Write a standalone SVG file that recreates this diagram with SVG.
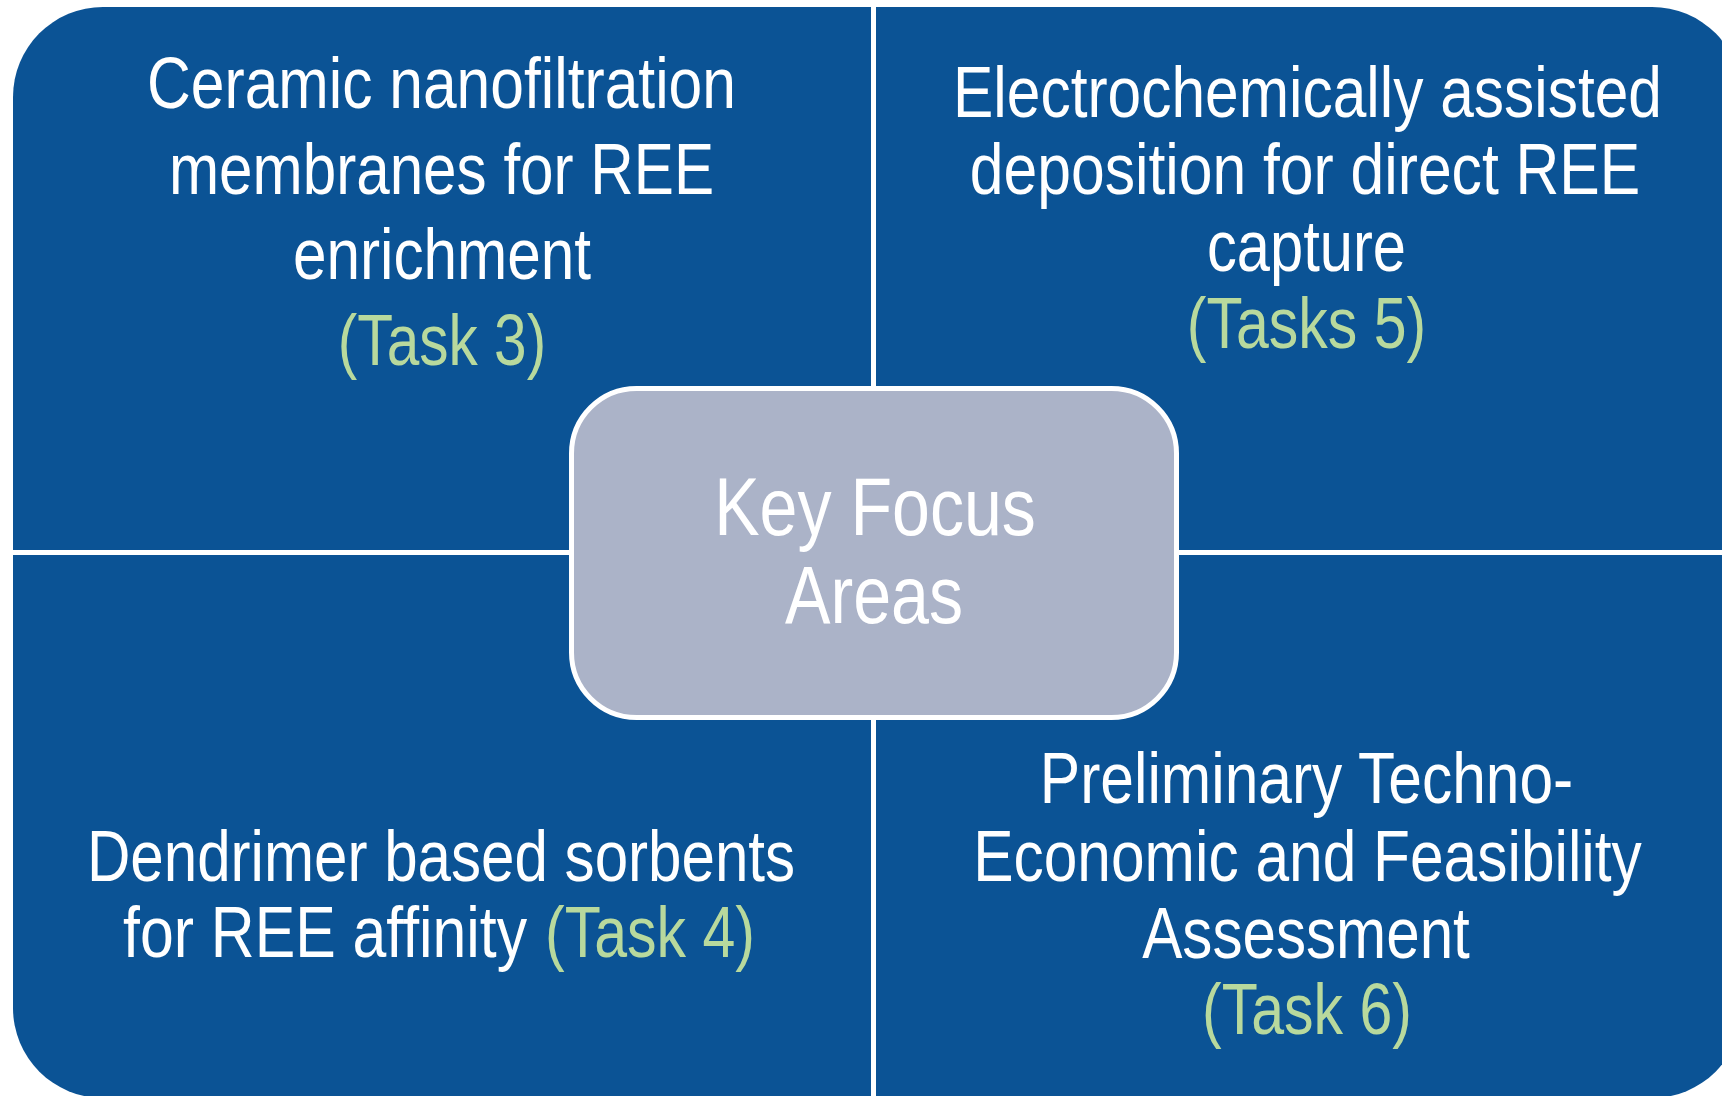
<svg xmlns="http://www.w3.org/2000/svg" width="1722" height="1096" viewBox="0 0 1722 1096">
  <style>
    .quad { fill: #0B5395; }
    .hub { fill: #ABB3C8; stroke: #FFFFFF; stroke-width: 5; }
    text { font-family: "Liberation Sans", Arial, sans-serif; font-size: 72px; fill: #FFFFFF; }
    .task { fill: #B8D99D; }
    .mid { text-anchor: middle; }
    .hubtext { font-size: 82px; text-anchor: middle; }
  </style>

  <rect x="0" y="0" width="1722" height="1096" fill="#FFFFFF"/>

  <!-- labels are set in a condensed cut: each line is narrowed to 84% horizontally -->

  <!-- top-left quadrant -->
  <g id="quad-membranes">
    <path class="quad" d="M13,97 A90,90 0 0 1 103,7 L871,7 L871,550 L13,550 Z"/>
    <text class="mid" transform="translate(441.5,0) scale(0.84,1)" x="0" y="108" textLength="701" lengthAdjust="spacingAndGlyphs">Ceramic nanofiltration</text>
    <text class="mid" transform="translate(441.5,0) scale(0.84,1)" x="0" y="194" textLength="649" lengthAdjust="spacingAndGlyphs">membranes for REE</text>
    <text class="mid" transform="translate(442,0) scale(0.84,1)" x="0" y="279" textLength="355" lengthAdjust="spacingAndGlyphs">enrichment</text>
    <text class="mid task" transform="translate(442,0) scale(0.84,1)" x="0" y="365" textLength="248" lengthAdjust="spacingAndGlyphs">(Task 3)</text>
  </g>

  <!-- top-right quadrant -->
  <g id="quad-deposition">
    <path class="quad" d="M876,7 L1652,7 A90,90 0 0 1 1742,97 L1742,550 L876,550 Z"/>
    <text class="mid" transform="translate(1307.5,0) scale(0.84,1)" x="0" y="117" textLength="844" lengthAdjust="spacingAndGlyphs">Electrochemically assisted</text>
    <text class="mid" transform="translate(1305,0) scale(0.84,1)" x="0" y="194" textLength="798" lengthAdjust="spacingAndGlyphs">deposition for direct REE</text>
    <text class="mid" transform="translate(1306.5,0) scale(0.84,1)" x="0" y="271" textLength="237" lengthAdjust="spacingAndGlyphs">capture</text>
    <text class="mid task" transform="translate(1306.5,0) scale(0.84,1)" x="0" y="348" textLength="285" lengthAdjust="spacingAndGlyphs">(Tasks 5)</text>
  </g>

  <!-- bottom-left quadrant -->
  <g id="quad-sorbents">
    <path class="quad" d="M13,555 L871,555 L871,1098 L103,1098 A90,90 0 0 1 13,1008 Z"/>
    <text class="mid" transform="translate(441,0) scale(0.84,1)" x="0" y="881" textLength="843" lengthAdjust="spacingAndGlyphs">Dendrimer based sorbents</text>
    <text transform="translate(123,0) scale(0.84,1)" x="0" y="957" textLength="481" lengthAdjust="spacingAndGlyphs">for REE affinity</text>
    <text class="task" transform="translate(545,0) scale(0.84,1)" x="0" y="957" textLength="250" lengthAdjust="spacingAndGlyphs">(Task 4)</text>
  </g>

  <!-- bottom-right quadrant -->
  <g id="quad-assessment">
    <path class="quad" d="M876,555 L1742,555 L1742,1008 A90,90 0 0 1 1652,1098 L876,1098 Z"/>
    <text class="mid" transform="translate(1306.5,0) scale(0.84,1)" x="0" y="803" textLength="635" lengthAdjust="spacingAndGlyphs">Preliminary Techno-</text>
    <text class="mid" transform="translate(1307.5,0) scale(0.84,1)" x="0" y="881" textLength="796" lengthAdjust="spacingAndGlyphs">Economic and Feasibility</text>
    <text class="mid" transform="translate(1306,0) scale(0.84,1)" x="0" y="958" textLength="390" lengthAdjust="spacingAndGlyphs">Assessment</text>
    <text class="mid task" transform="translate(1307,0) scale(0.84,1)" x="0" y="1034" textLength="250" lengthAdjust="spacingAndGlyphs">(Task 6)</text>
  </g>

  <!-- central hub -->
  <g id="hub-key-focus">
    <rect class="hub" x="571.5" y="388.5" width="605" height="329" rx="65" ry="65"/>
    <text class="hubtext" transform="translate(875,0) scale(0.84,1)" x="0" y="535" textLength="383" lengthAdjust="spacingAndGlyphs">Key Focus</text>
    <text class="hubtext" transform="translate(874,0) scale(0.84,1)" x="0" y="623" textLength="212" lengthAdjust="spacingAndGlyphs">Areas</text>
  </g>

  <g id="connectors"></g>
</svg>
